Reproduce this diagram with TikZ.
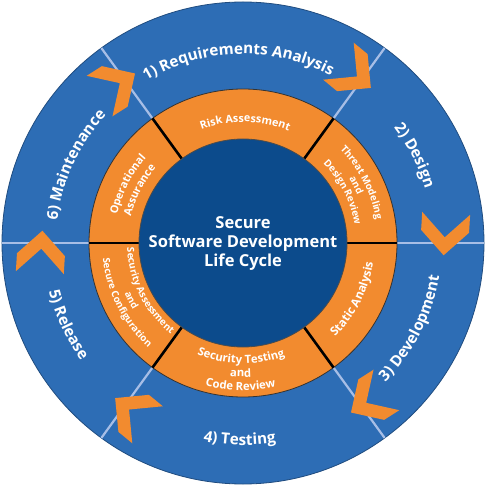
\documentclass[tikz,border=0pt]{standalone}
\usepackage{fontspec}
\setmainfont{Open Sans}
\usetikzlibrary{decorations.text}

\definecolor{ringblue}{HTML}{2D6DB5}
\definecolor{linkblue}{HTML}{A7BEE6}
\definecolor{ringorange}{HTML}{F28B2F}
\definecolor{coreblue}{HTML}{0C4B8C}

\tikzset{
  outertext/.style={decorate, decoration={text along path, text align=center, text color=white,
      text={|\bfseries\fontsize{15.3}{18}\selectfont|#1}}},
  innertext/.style 2 args={decorate, decoration={text along path, text align=center, text color=white,
      text={|\bfseries\fontsize{#1}{12}\selectfont|#2}}},
  chevron/.style={fill=ringorange},
}

\begin{document}
\begin{tikzpicture}[x=1pt, y=1pt]
			\useasboundingbox (-243,-243) rectangle (242,243);
			
			% Outer ring (phases)
			\fill[ringblue, draw=ringblue!70!black, line width=0.8] (0,0) circle (241);
			
			% Borders between phases
			\foreach \a in {0,54,126,180,234,306}
				\draw[linkblue, line width=2.2] (\a:154) -- (\a:241);
			
			% Chevrons (clockwise flow)
			\foreach \a [evaluate=\a as \t using \a-3.5] in {0,54,126,180,234,306}
				\path[chevron, shift={(\t:201)}, rotate=\t-90]
					(0,0) -- (-24,24) -- (-42,24) -- (-18,0) -- (-42,-24) -- (-24,-24) -- cycle;
			
			% Middle ring (activities)
			\fill[ringorange, draw=black!80, line width=0.8] (0,0) circle (154);
			\foreach \a in {0,54,126,180,234,306}
				\draw[black, line width=2.6] (\a:104) -- (\a:154);
			
			% Core
			\fill[coreblue, draw=black!70, line width=0.8] (0,0) circle (104);
			\node[text=white, font=\bfseries\fontsize{16.5}{19}\selectfont, align=center] (core) at (0,-1)
				{Secure\\Software Development\\Life Cycle};
			
			% Phase labels
			\path[outertext={1) Requirements Analysis}] (161.5:189) arc[start angle=161.5, end angle=21.5, radius=189];
			\path[outertext={2) Design}] (87:190) arc[start angle=87, end angle=-33, radius=190];
			\path[outertext={3) Development}] (-87:199) arc[start angle=-87, end angle=33, radius=199];
			\path[outertext={4) Testing}] (-151:202) arc[start angle=-151, end angle=-31, radius=202];
			\path[outertext={5) Release}] (145:200) arc[start angle=145, end angle=265, radius=200];
			\path[outertext={6) Maintenance}] (215:187) arc[start angle=215, end angle=95, radius=187];
			
			% Activity labels
			\path[innertext={10.8}{Risk Assessment}] (149:121) arc[start angle=149, end angle=29, radius=121];
			\path[innertext={9.8}{Threat Modeling}] (87:135) arc[start angle=87, end angle=-33, radius=135];
			\path[innertext={9.8}{and}] (87:124) arc[start angle=87, end angle=-33, radius=124];
			\path[innertext={9.8}{Design Review}] (87:113) arc[start angle=87, end angle=-33, radius=113];
			\path[innertext={11.8}{Static Analysis}] (-87:131.5) arc[start angle=-87, end angle=33, radius=131.5];
			\path[innertext={11.3}{Security Testing}] (-151:120.5) arc[start angle=-151, end angle=-31, radius=120.5];
			\path[innertext={11.3}{and}] (-151:134) arc[start angle=-151, end angle=-31, radius=134];
			\path[innertext={11.3}{Code Review}] (-151:147.5) arc[start angle=-151, end angle=-31, radius=147.5];
			\path[innertext={9.7}{Security Assessment}] (147:116) arc[start angle=147, end angle=267, radius=116];
			\path[innertext={9.7}{and}] (147:128.5) arc[start angle=147, end angle=267, radius=128.5];
			\path[innertext={9.7}{Secure Configuration}] (147:141) arc[start angle=147, end angle=267, radius=141];
			\path[innertext={10.8}{Operational}] (213:129) arc[start angle=213, end angle=93, radius=129];
			\path[innertext={10.8}{Assurance}] (213:115) arc[start angle=213, end angle=93, radius=115];
		\end{tikzpicture}
\end{document}
